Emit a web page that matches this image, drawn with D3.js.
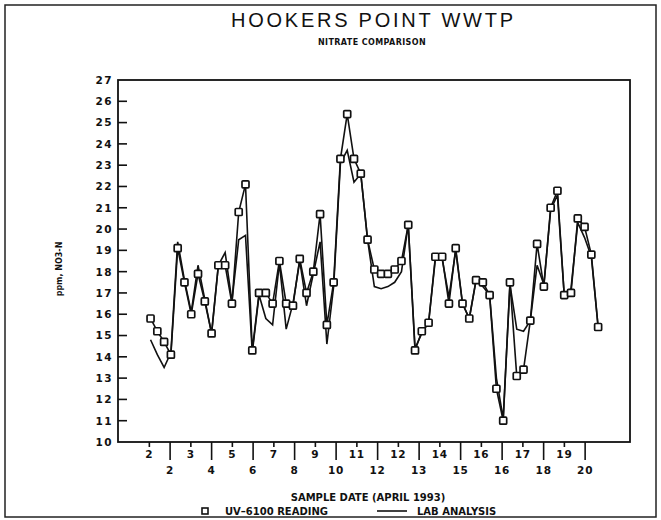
<!DOCTYPE html>
<html>
<head>
<meta charset="utf-8">
<script src="https://cdnjs.cloudflare.com/ajax/libs/d3/7.8.5/d3.min.js"></script>
<style>
  body { margin: 0; background: #fff; }
  text { fill: #111; }
</style>
</head>
<body>
<svg id="chart" width="661" height="520"></svg>
<script>
// samples taken through April 1993, one reading per sample
const sampleNo = d3.range(1, 68);

const uvReading = [
  15.8, 15.2, 14.7, 14.1, 19.1, 17.5, 16.0, 17.9, 16.6, 15.1,
  18.3, 18.3, 16.5, 20.8, 22.1, 14.3, 17.0, 17.0, 16.5, 18.5,
  16.5, 16.4, 18.6, 17.0, 18.0, 20.7, 15.5, 17.5, 23.3, 25.4,
  23.3, 22.6, 19.5, 18.1, 17.9, 17.9, 18.1, 18.5, 20.2, 14.3,
  15.2, 15.6, 18.7, 18.7, 16.5, 19.1, 16.5, 15.8, 17.6, 17.5,
  16.9, 12.5, 11.0, 17.5, 13.1, 13.4, 15.7, 19.3, 17.3, 21.0,
  21.8, 16.9, 17.0, 20.5, 20.1, 18.8, 15.4
];

const labAnalysis = [
  14.8, 14.1, 13.5, 14.2, 19.4, 17.6, 16.1, 18.3, 16.7, 15.1,
  18.3, 18.9, 16.6, 19.5, 19.7, 14.2, 16.9, 15.8, 15.5, 18.4,
  15.3, 16.5, 18.5, 16.4, 17.9, 19.4, 14.6, 17.3, 23.1, 23.7,
  22.2, 22.6, 19.5, 17.3, 17.2, 17.3, 17.5, 18.0, 20.2, 14.4,
  15.1, 15.6, 18.6, 18.6, 16.8, 19.0, 16.5, 15.8, 17.6, 17.3,
  16.9, 13.0, 11.1, 17.4, 15.3, 15.2, 15.7, 18.3, 17.4, 20.9,
  21.6, 16.9, 17.2, 20.3, 19.6, 18.7, 15.4
];

// date labels: upper row on short ticks, lower row on long ticks
const upperDates = ["2", "3", "5", "7", "9", "11", "12", "14", "16", "17", "19"];
const lowerDates = ["2", "4", "6", "8", "10", "12", "13", "15", "16", "18", "20"];
const yTicks = d3.range(11, 27);

const svg = d3.select("#chart");
const plotL = 118, plotR = 630, plotT = 80, plotB = 442;
const font = "DejaVu Sans, sans-serif";

const x = d3.scaleLinear().domain([-3.8, 71.7]).range([plotL, plotR]);
const y = d3.scaleLinear().domain([10, 27]).range([plotB, plotT]);

// tick slots along the date axis (in sample units)
const slotStart = 0.75, slotStep = 3.06;
const upperPos = upperDates.map((d, i) => slotStart + 2 * i * slotStep);
const lowerPos = lowerDates.map((d, i) => slotStart + (2 * i + 1) * slotStep);

// outer border
svg.append("rect")
  .attr("x", 5).attr("y", 5).attr("width", 651).attr("height", 512)
  .attr("fill", "none").attr("stroke", "#222").attr("stroke-width", 1.5);

// titles
svg.append("text")
  .attr("x", 372).attr("y", 27)
  .attr("text-anchor", "middle")
  .attr("font-family", "Liberation Sans, Arial, sans-serif")
  .attr("font-size", 20)
  .attr("textLength", 282).attr("lengthAdjust", "spacing")
  .text("HOOKERS POINT WWTP");

svg.append("text")
  .attr("x", 372).attr("y", 45)
  .attr("text-anchor", "middle")
  .attr("font-family", font)
  .attr("font-weight", "bold")
  .attr("font-size", 8)
  .attr("letter-spacing", 0.4)
  .text("NITRATE COMPARISON");

// y axis
const yAxis = svg.append("g")
  .attr("transform", `translate(${plotL},0)`)
  .call(d3.axisLeft(y).tickValues(d3.range(10, 28)).tickSize(0).tickPadding(5)
    .tickFormat(d3.format("d")));
yAxis.select(".domain").remove();
yAxis.selectAll("text")
  .attr("font-family", font)
  .attr("font-weight", "bold")
  .attr("font-size", 10.5)
  .attr("letter-spacing", 1.5);

svg.append("g").selectAll("line")
  .data(yTicks).join("line")
  .attr("x1", plotL).attr("x2", plotL + 9)
  .attr("y1", d => y(d)).attr("y2", d => y(d))
  .attr("stroke", "#111").attr("stroke-width", 1.6);

svg.append("text")
  .attr("transform", `translate(62,${(plotT + plotB) / 2 + 8}) rotate(-90)`)
  .attr("text-anchor", "middle")
  .attr("font-family", font)
  .attr("font-weight", "bold")
  .attr("font-size", 8)
  .text("ppm, NO3-N");

// x axis: short ticks with upper labels, long ticks with lower labels
const xUpper = svg.append("g")
  .attr("transform", `translate(0,${plotB})`)
  .call(d3.axisBottom(x).tickValues(upperPos).tickSize(5).tickPadding(4)
    .tickFormat((d, i) => upperDates[i]));
const xLower = svg.append("g")
  .attr("transform", `translate(0,${plotB})`)
  .call(d3.axisBottom(x).tickValues(lowerPos).tickSize(18).tickPadding(7)
    .tickFormat((d, i) => lowerDates[i]));
[xUpper, xLower].forEach(g => {
  g.select(".domain").remove();
  g.selectAll("line").attr("stroke", "#111").attr("stroke-width", 1.6);
  g.selectAll("text")
    .attr("font-family", font)
    .attr("font-weight", "bold")
    .attr("font-size", 10.5)
    .attr("letter-spacing", 0.8);
});

svg.append("text")
  .attr("x", 368).attr("y", 501)
  .attr("text-anchor", "middle")
  .attr("font-family", font)
  .attr("font-weight", "bold")
  .attr("font-size", 10)
  .text("SAMPLE DATE (APRIL 1993)");

// plot frame
svg.append("rect")
  .attr("x", plotL).attr("y", plotT)
  .attr("width", plotR - plotL).attr("height", plotB - plotT)
  .attr("fill", "none").attr("stroke", "#111").attr("stroke-width", 1.8);

// series
const line = d3.line()
  .x((d, i) => x(sampleNo[i]))
  .y(d => y(d));

svg.append("path")
  .datum(labAnalysis)
  .attr("d", line)
  .attr("fill", "none").attr("stroke", "#111").attr("stroke-width", 1.6);

svg.append("path")
  .datum(uvReading)
  .attr("d", line)
  .attr("fill", "none").attr("stroke", "#111").attr("stroke-width", 1.6);

svg.append("g").selectAll("rect")
  .data(uvReading).join("rect")
  .attr("x", (d, i) => x(sampleNo[i]) - 3.5)
  .attr("y", d => y(d) - 3.5)
  .attr("width", 7).attr("height", 7)
  .attr("rx", 1)
  .attr("fill", "#fff").attr("stroke", "#111").attr("stroke-width", 1.7);

// legend
const legend = svg.append("g")
  .attr("font-family", font)
  .attr("font-weight", "bold")
  .attr("font-size", 10);
legend.append("rect")
  .attr("x", 202).attr("y", 508).attr("width", 6).attr("height", 6)
  .attr("fill", "#fff").attr("stroke", "#111").attr("stroke-width", 1.6);
legend.append("text").attr("x", 225).attr("y", 515).text("UV\u20136100 READING");
legend.append("line")
  .attr("x1", 377).attr("x2", 407).attr("y1", 511).attr("y2", 511)
  .attr("stroke", "#111").attr("stroke-width", 1.6);
legend.append("text").attr("x", 417).attr("y", 515).text("LAB ANALYSIS");
</script>
</body>
</html>
